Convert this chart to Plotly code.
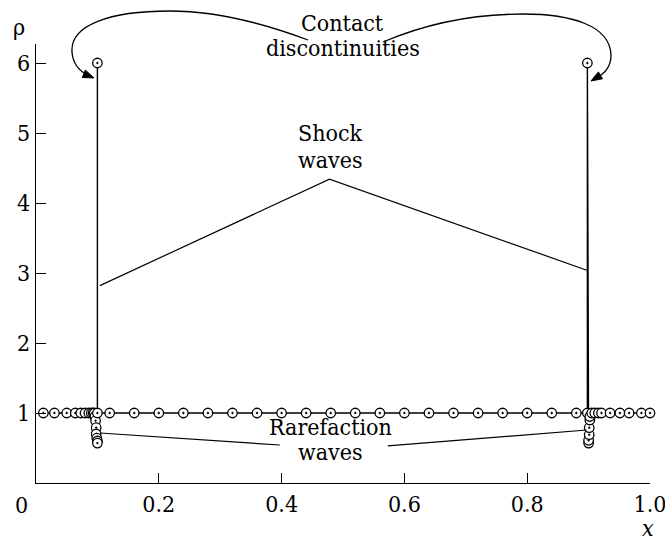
import plotly.graph_objects as go
import math

# ---- data ----
left_flat_x = [0.012, 0.030, 0.050, 0.064, 0.073, 0.080, 0.086, 0.090, 0.093, 0.095]
left_dip_x = [0.096, 0.097, 0.098, 0.098, 0.099, 0.100, 0.100]
left_dip_rho = [0.95, 0.89, 0.79, 0.70, 0.64, 0.60, 0.57]
contact_left_x = 0.100
contact_rho = 6.0
mid_x = [0.12, 0.16, 0.20, 0.24, 0.28, 0.32, 0.36, 0.40, 0.44, 0.48,
         0.52, 0.56, 0.60, 0.64, 0.68, 0.72, 0.76, 0.80, 0.84, 0.88]
contact_right_x = 0.898
right_dip_x = [0.900, 0.900, 0.901, 0.901, 0.902, 0.902]
right_dip_rho = [0.57, 0.61, 0.69, 0.79, 0.90, 0.95]
right_flat_x = [0.905, 0.910, 0.916, 0.921, 0.935, 0.951, 0.966, 0.986, 1.0]

x_ticks = [0.2, 0.4, 0.6, 0.8, 1.0]
x_tick_text = ["0.2", "0.4", "0.6", "0.8", "1.0"]
y_ticks = [1, 2, 3, 4, 5, 6]

# build the path
xs, ys = [], []
xs += left_flat_x; ys += [1.0] * len(left_flat_x)
xs += left_dip_x; ys += left_dip_rho
xs += [contact_left_x, contact_left_x]; ys += [contact_rho, 1.0]
xs += mid_x; ys += [1.0] * len(mid_x)
xs += [contact_right_x, contact_right_x]; ys += [1.0, contact_rho]
xs += right_dip_x; ys += right_dip_rho
xs += right_flat_x; ys += [1.0] * len(right_flat_x)

W, H = 665, 542
L, R, T, B = 36, 15, 44, 59
PW, PH = W - L - R, H - T - B
YMAX = PH / 70.0

def px(xp, yp):
    return (xp - L) / PW, (H - B - yp) / PH

FONT = "DejaVu Serif Condensed, DejaVu Serif, serif"
FS = 23

fig = go.Figure()
fig.add_trace(go.Scatter(
    x=xs, y=ys, mode="lines+markers",
    line=dict(color="black", width=1.4),
    marker=dict(symbol="circle-dot", size=9.5, color="white",
                line=dict(color="black", width=1.3)),
    showlegend=False, cliponaxis=False,
))

shapes = []
shapes.append(dict(type="path", xref="x", yref="y",
                   path="M 0.104,2.82 L 0.478,4.34 L 0.897,3.04",
                   line=dict(color="black", width=1.2)))
shapes.append(dict(type="line", xref="x", yref="y", x0=0.104, y0=0.714, x1=0.397, y1=0.543,
                   line=dict(color="black", width=1.2)))
shapes.append(dict(type="line", xref="x", yref="y", x0=0.573, y0=0.529, x1=0.897, y1=0.757,
                   line=dict(color="black", width=1.2)))

def pathp(cmds):
    out = []
    for c in cmds:
        if isinstance(c, str):
            out.append(c)
        else:
            a, b = px(*c)
            out.append(f"{a:.4f},{b:.4f}")
    return " ".join(out)

left_curve = pathp(["M", (308, 40), "C", (260, 22), (215, 11), (170, 11),
                    "C", (110, 11), (70, 25), (72, 52),
                    "C", (73, 64), (79, 71), (88, 75)])
right_curve = pathp(["M", (383, 42), "C", (430, 22), (480, 14), (523, 14),
                     "C", (570, 14), (610, 25), (611, 55),
                     "C", (611, 66), (605, 73), (598, 77)])
for p in (left_curve, right_curve):
    shapes.append(dict(type="path", xref="paper", yref="paper", path=p,
                       line=dict(color="black", width=1.3)))

def arrowhead(tip, d, length=11, half=4):
    n = math.hypot(*d); ux, uy = d[0] / n, d[1] / n
    bx, by = tip[0] - ux * length, tip[1] - uy * length
    p1 = (bx - uy * half, by + ux * half)
    p2 = (bx + uy * half, by - ux * half)
    return pathp(["M", tip, "L", p1, "L", p2, "Z"])

shapes.append(dict(type="path", xref="paper", yref="paper",
                   path=arrowhead((94, 78), (12, 5)),
                   fillcolor="black", line=dict(color="black", width=1)))
shapes.append(dict(type="path", xref="paper", yref="paper",
                   path=arrowhead((591, 81), (-10, 6)),
                   fillcolor="black", line=dict(color="black", width=1)))

annos = []
def txt(s, xp, yp, size=FS, italic=False):
    a, b = px(xp, yp)
    annos.append(dict(text=s, x=a, y=b, xref="paper", yref="paper",
                      showarrow=False, xanchor="center", yanchor="middle",
                      font=dict(family=FONT, size=size, color="black",
                                style="italic" if italic else "normal")))

txt("Contact", 342, 23)
txt("discontinuities", 343, 48)
txt("Shock", 330, 133)
txt("waves", 330, 160)
txt("Rarefaction", 330, 427)
txt("waves", 330, 452)
txt("ρ", 19, 27)
txt("x", 648, 528, italic=True)
txt("0", 21, 505)

fig.update_layout(
    width=W, height=H,
    margin=dict(l=L, r=R, t=T, b=B, pad=0, autoexpand=False),
    paper_bgcolor="white", plot_bgcolor="white",
    shapes=shapes, annotations=annos,
    font=dict(family=FONT, size=FS, color="black"),
    xaxis=dict(range=[0, 1], tickvals=x_ticks, ticktext=x_tick_text,
               ticks="inside", ticklen=10, tickwidth=1.2, tickcolor="black",
               showline=True, linecolor="black", linewidth=1.3,
               showgrid=False, zeroline=False, ticklabeloverflow="allow",
               automargin=False,
               tickfont=dict(family=FONT, size=FS, color="black")),
    yaxis=dict(range=[0, YMAX], tickvals=y_ticks,
               ticks="inside", ticklen=10, tickwidth=1.2, tickcolor="black",
               showline=True, linecolor="black", linewidth=1.3,
               showgrid=False, zeroline=False, ticklabeloverflow="allow",
               automargin=False,
               tickfont=dict(family=FONT, size=FS, color="black")),
)

fig.write_html("out.html")
